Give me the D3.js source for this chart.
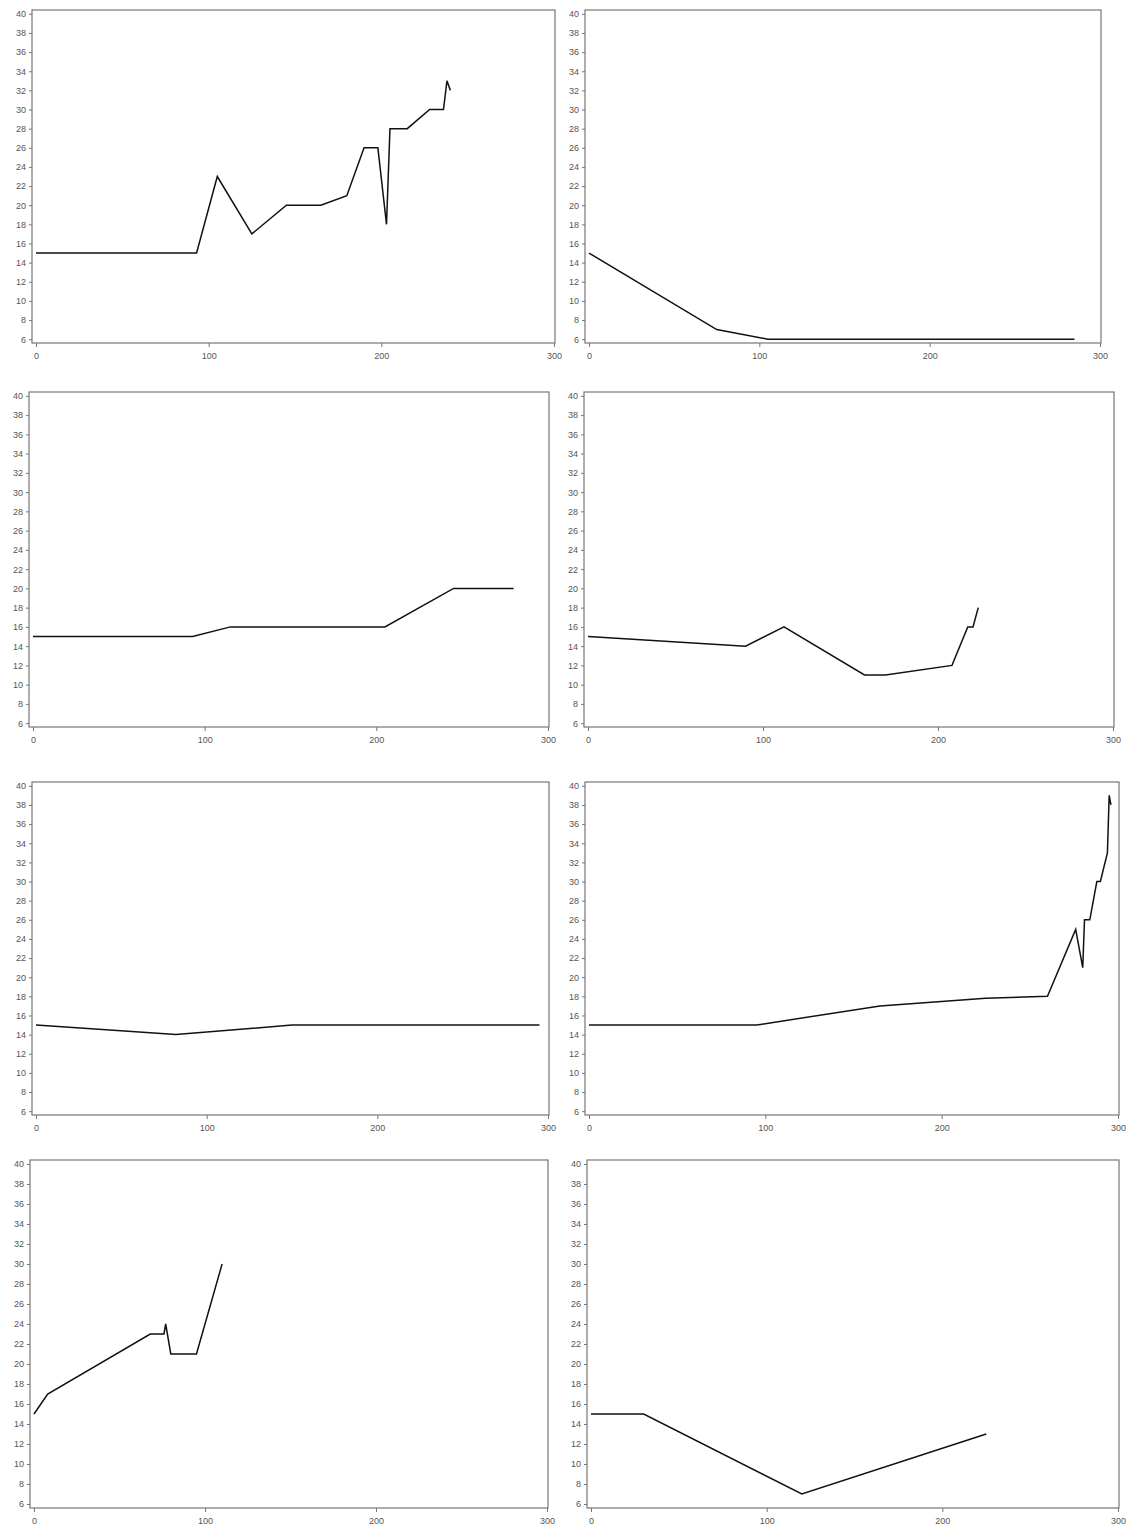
<!DOCTYPE html>
<html><head><meta charset="utf-8">
<script src="https://cdn.jsdelivr.net/npm/d3@7"></script>
<style>body{margin:0;background:#fff}text{font-family:"Liberation Sans",Arial,sans-serif}</style>
</head><body><svg id="c" width="1141" height="1526"></svg>
<script>
const series1 = [[0,15],[93,15],[105,23],[125,17],[145,20],[165,20],[180,21],[190,26],[198,26],[203,18],[205,28],[215,28],[228,30],[236,30],[238,33],[240,32]]
const series2 = [[0,15],[75,7],[105,6],[285,6]]
const series3 = [[0,15],[93,15],[115,16],[205,16],[245,20],[280,20]]
const series4 = [[0,15],[90,14],[112,16],[158,11],[170,11],[208,12],[217,16],[220,16],[223,18]]
const series5 = [[0,15],[82,14],[150,15],[295,15]]
const series6 = [[0,15],[95,15],[165,17],[225,17.8],[260,18],[276,25],[280,21],[281,26],[284,26],[288,30],[290,30],[294,33],[295,39],[296,38]]
const series7 = [[0,15],[8,17],[68,23],[76,23],[77,24],[80,21],[95,21],[110,30]]
const series8 = [[0,15],[30,15],[120,7],[225,13]]
const allSeries = [series1,series2,series3,series4,series5,series6,series7,series8]
const yTicks = d3.range(6, 41, 2)
const xTicks = [0, 100, 200, 300]

const svg = d3.select("#c")
// pixel position of x=0 and x=300 per panel, and frame top/bottom
const xPix = [[36,554],[589,1100],[33,548],[588,1113],[36,548],[589,1118],[34,547],[591,1118]]
const rows = [[10,343],[392,727],[782,1115],[1160,1508]]

allSeries.forEach((data, i) => {
    const [p0, p300] = xPix[i]
    const x0 = p0 - 4, x1 = p300 + 1
    const [y0, y1] = rows[Math.floor(i / 2)]
    const x = d3.scaleLinear().domain([0, 300]).range([p0, p300])
    const y = d3.scaleLinear().domain([5.6, 40.4]).range([y1, y0])
    const g = svg.append("g")

    g.append("rect").attr("x", x0).attr("y", y0).attr("width", x1 - x0).attr("height", y1 - y0)
        .attr("fill", "none").attr("stroke", "#777").attr("stroke-width", 1.2)

    const ya = g.append("g").attr("transform", `translate(${x0},0)`)
        .call(d3.axisLeft(y).tickValues(yTicks).tickSize(3).tickPadding(3))
    const xa = g.append("g").attr("transform", `translate(0,${y1})`)
        .call(d3.axisBottom(x).tickValues(xTicks).tickSize(4).tickPadding(6))
    for (const a of [ya, xa]) {
        a.select(".domain").remove()
        a.selectAll("line").attr("stroke", "#777")
        a.selectAll("text").attr("fill", "#555").style("font-size", "9px")
    }

    g.append("path").datum(data)
        .attr("d", d3.line().x(d => x(d[0])).y(d => y(d[1])))
        .attr("fill", "none").attr("stroke", "#111").attr("stroke-width", 1.5)
})
</script></body></html>
